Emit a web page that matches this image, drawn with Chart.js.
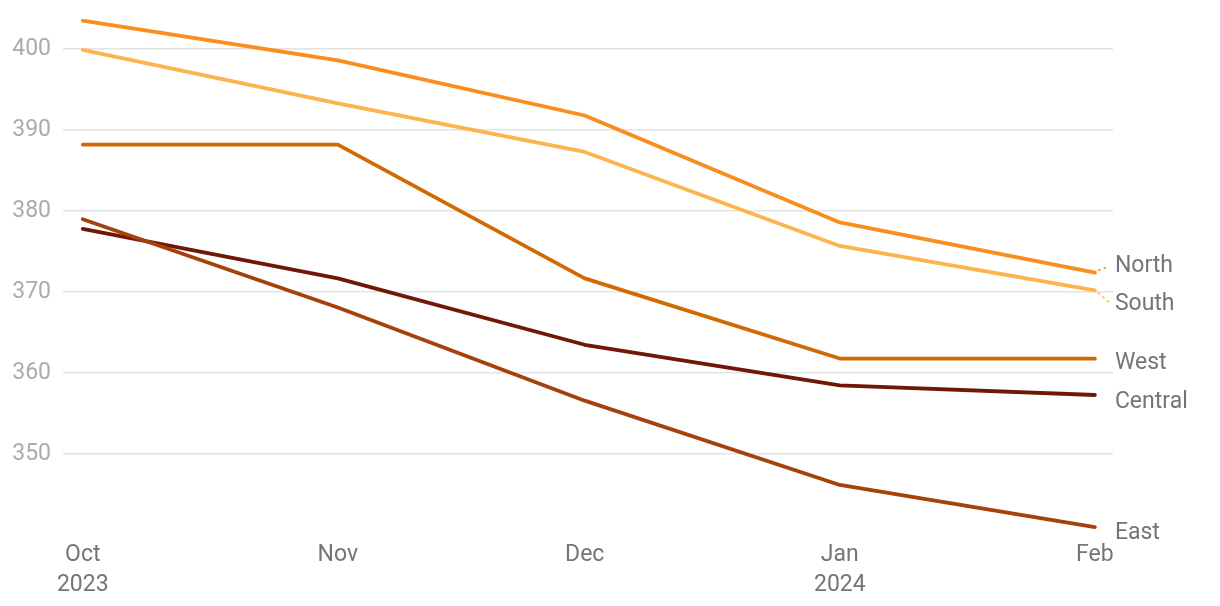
<!DOCTYPE html>
<html>
<head>
<meta charset="utf-8">
<script src="https://cdn.jsdelivr.net/npm/chart.js@4/dist/chart.umd.min.js"></script>
<style>
html,body{margin:0;padding:0;background:#fff;}
#wrap{position:relative;width:1220px;height:606px;}
</style>
</head>
<body>
<div id="wrap"><canvas id="c" width="1220" height="606"></canvas></div>
<script>
// ---- data ----
const dates = ["2023-10-01", "2023-11-01", "2023-12-01", "2024-01-01", "2024-02-01"];
const tickLabels = [["Oct", "2023"], ["Nov"], ["Dec"], ["Jan", "2024"], ["Feb"]];
const seriesNames = ["North", "South", "West", "Central", "East"];
const north   = [403.5, 398.6, 391.8, 378.6, 372.4];
const south   = [399.9, 393.3, 387.3, 375.7, 370.2];
const west    = [388.2, 388.2, 371.7, 361.8, 361.8];
const central = [377.8, 371.7, 363.5, 358.5, 357.3];
const east    = [379.0, 368.1, 356.6, 346.2, 341.0];
const yTicks  = [350, 360, 370, 380, 390, 400];
const colors  = ["#F98D1E", "#FDB44C", "#D16A03", "#711705", "#A5410A"];

// ---- helpers ----
const t0 = Date.UTC(2023, 9, 1);
const dayOf = s => { const [y, m, d] = s.split("-").map(Number); return (Date.UTC(y, m - 1, d) - t0) / 86400000; };
const xs = dates.map(dayOf);
const allValues = [north, south, west, central, east];

const datasets = seriesNames.map((name, i) => ({
  label: name,
  data: xs.map((x, j) => ({ x: x, y: allValues[i][j] })),
  borderColor: colors[i],
  backgroundColor: colors[i],
  borderWidth: 3.8,
  pointRadius: 0,
  tension: 0,
  clip: false,
  borderCapStyle: "round",
  borderJoinStyle: "round"
}));
datasets.reverse();

// end labels plugin (label pixel offsets from line ends)
const labelOffsets = { North: -7, South: 13, West: 4, Central: 6, East: 5 };
const endLabels = {
  id: "endLabels",
  afterDatasetsDraw(chart) {
    const ctx = chart.ctx;
    ctx.save();
    ctx.font = "23px Roboto";
    ctx.fillStyle = "#757575";
    ctx.textBaseline = "middle";
    ctx.textAlign = "left";
    chart.data.datasets.forEach((ds, i) => {
      const meta = chart.getDatasetMeta(i);
      const pt = meta.data[meta.data.length - 1];
      const off = labelOffsets[ds.label] || 0;
      const ly = pt.y + off;
      const lx = pt.x + 20;
      if (Math.abs(off) > 6) {
        ctx.strokeStyle = ds.borderColor;
        ctx.lineWidth = 1.5;
        ctx.setLineDash([3, 3]);
        ctx.beginPath();
        ctx.moveTo(pt.x + 3, pt.y + Math.sign(off) * 2);
        ctx.lineTo(pt.x + 14, pt.y + off * 0.9);
        ctx.stroke();
        ctx.setLineDash([]);
      }
      ctx.fillText(ds.label, lx, ly + 1);
    });
    ctx.restore();
  }
};

new Chart(document.getElementById("c"), {
  type: "line",
  data: { datasets: datasets },
  options: {
    responsive: false,
    animation: false,
    devicePixelRatio: 1,
    layout: { padding: { top: 5, right: 107, left: 0, bottom: 0 } },
    plugins: { legend: { display: false }, tooltip: { enabled: false } },
    scales: {
      x: {
        type: "linear",
        min: -2.4,
        max: 125.2,
        afterBuildTicks: s => { s.ticks = xs.map(v => ({ value: v })); },
        afterFit: s => { s.height = 71; },
        grid: { display: false, drawTicks: false },
        border: { display: false },
        ticks: {
          autoSkip: false,
          maxRotation: 0,
          padding: 6,
          color: "#757575",
          font: { family: "Roboto", size: 23, lineHeight: 1.27 },
          callback: (v) => { const k = xs.indexOf(v); return k >= 0 ? tickLabels[k] : ""; }
        }
      },
      y: {
        type: "linear",
        min: 340.02,
        max: 402.87,
        afterBuildTicks: s => { s.ticks = yTicks.map(v => ({ value: v })); },
        afterFit: s => { s.width = 63; },
        grid: { color: "#e3e3e3", lineWidth: 1.5, drawTicks: false },
        border: { display: false },
        ticks: {
          padding: 12,
          color: "#ababab",
          font: { family: "Roboto", size: 23 }
        }
      }
    }
  },
  plugins: [endLabels]
});
</script>
</body>
</html>
